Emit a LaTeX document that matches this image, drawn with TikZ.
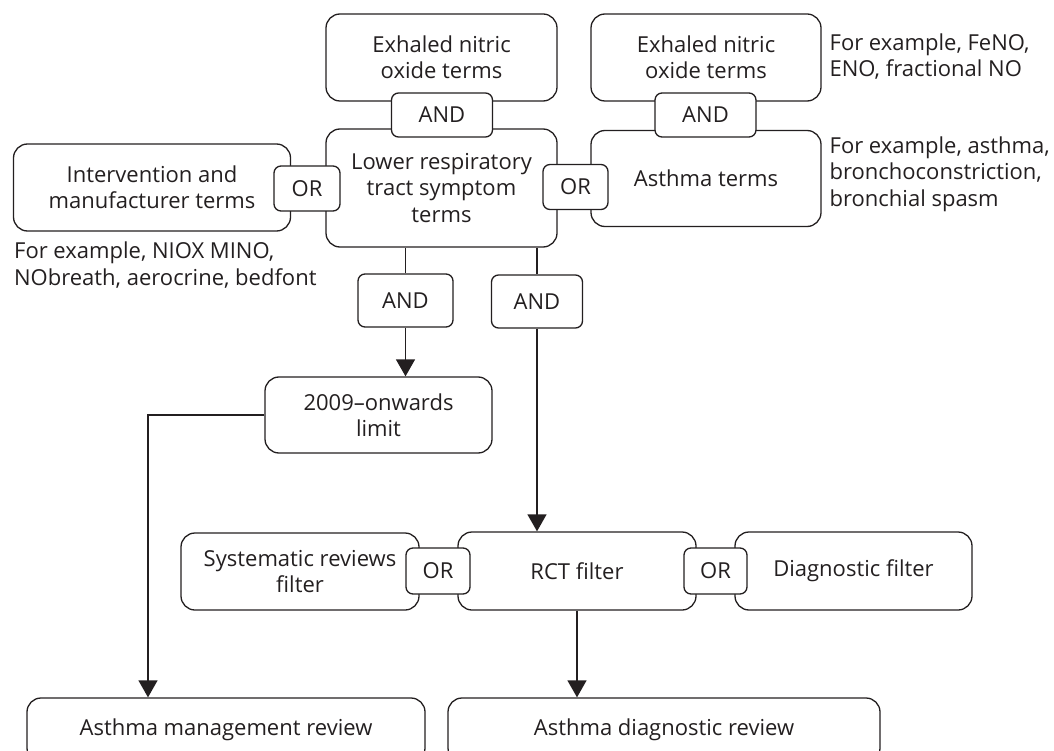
\documentclass[tikz,border=0pt]{standalone}
\usepackage{fontspec}
\setmainfont{Open Sans}
\usetikzlibrary{arrows.meta}
\definecolor{ink}{HTML}{231F20}

\begin{document}
\begin{tikzpicture}[x=1pt, y=-1pt, line width=1.3pt,
  term/.style={draw=ink, rounded corners=14pt, inner sep=0pt, align=center,
    text=ink, font=\fontsize{22}{26.5}\selectfont},
  op/.style={draw=ink, fill=white, rounded corners=7pt, inner sep=0pt,
    text=ink, font=\fontsize{22}{26.5}\selectfont},
  note/.style={anchor=west, inner sep=0pt, align=left,
    text=ink, font=\fontsize{22}{26.5}\selectfont},
  arr/.style={draw=ink, -{Triangle[length=17pt,width=19pt]}}]
\clip (0,0) rectangle (1054,751);
% --- Search terms ---
\node[term, minimum width=231pt, minimum height=87pt] (eno1) at (441.5,57.5) {Exhaled nitric\\oxide terms};
\node[term, minimum width=231pt, minimum height=118pt] (lrt) at (441.5,188) {Lower respiratory\\tract symptom\\terms};
\node[term, minimum width=277pt, minimum height=87pt] (interv) at (152,187.5) {Intervention and\\manufacturer terms};
\node[term, minimum width=230pt, minimum height=87pt] (eno2) at (706,57.5) {Exhaled nitric\\oxide terms};
\node[term, minimum width=230pt, minimum height=96pt] (asth) at (706,178.5) {Asthma terms};
\node[op, minimum width=101pt, minimum height=44pt] (and1) at (442,115) {AND};
\node[op, minimum width=101pt, minimum height=44pt] (and4) at (705.5,115) {AND};
\node[op, minimum width=66pt, minimum height=45pt] (or1) at (307,188.5) {OR};
\node[op, minimum width=65pt, minimum height=45pt] (or2) at (575.5,187) {OR};
% --- Examples ---
\node[note] (noteeno) at (829,56.5) {For example, FeNO,\\ENO, fractional NO};
\node[note] (noteasth) at (829,174) {For example, asthma,\\bronchoconstriction,\\bronchial spasm};
\node[note] (noteinterv) at (13.5,265) {For example, NIOX MINO,\\NObreath, aerocrine, bedfont};
% --- Combination ---
\node[op, minimum width=95pt, minimum height=53pt] (and2) at (405.5,300.5) {AND};
\node[op, minimum width=91pt, minimum height=53pt] (and3) at (537,301.5) {AND};
\draw[ink] (and2.north) -- (and2.north |- lrt.south);
\draw[ink] (and3.north) -- (and3.north |- lrt.south);
\node[term, minimum width=227pt, minimum height=76pt] (lim) at (378.5,415) {2009--onwards\\limit};
\draw[arr] (and2.south) -- (and2.south |- lim.north);
% --- Filters ---
\node[term, minimum width=238pt, minimum height=77pt] (sysr) at (300,571.5) {Systematic reviews\\filter};
\node[term, minimum width=238pt, minimum height=78pt] (rct) at (577,571) {RCT filter};
\node[term, minimum width=237pt, minimum height=78pt] (diag) at (853.5,571) {Diagnostic filter};
\node[op, minimum width=64pt, minimum height=46pt] (or3) at (438,571) {OR};
\node[op, minimum width=63pt, minimum height=46pt] (or4) at (715.5,571) {OR};
\draw[arr] (and3.south) -- (and3.south |- rct.north);
% --- Reviews ---
\node[term, minimum width=398pt, minimum height=64pt] (mgmt) at (226,730) {Asthma management review};
\node[term, minimum width=432pt, minimum height=64pt] (diagr) at (664,730) {Asthma diagnostic review};
\draw[arr] (lim.west) -| ([xshift=-78pt]mgmt.north);
\draw[arr] (rct.south) -- (rct.south |- diagr.north);
\end{tikzpicture}
\end{document}
